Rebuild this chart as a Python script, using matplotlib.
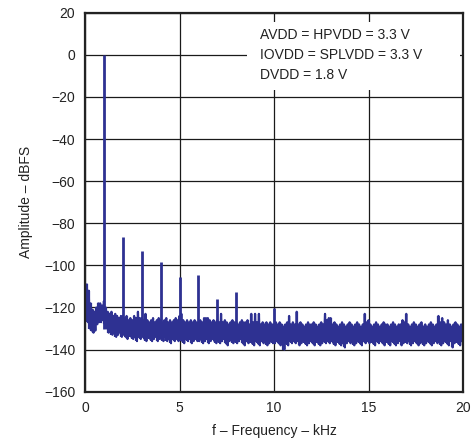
import numpy as np
import matplotlib
matplotlib.use("Agg")
import matplotlib.pyplot as plt
from matplotlib.patches import Rectangle

plt.rcParams['font.family'] = ['Liberation Sans', 'DejaVu Sans']

# ---- data ----
freq_khz = np.round(np.arange(0, 201) * 0.1, 1)  # 0.0 .. 20.0 kHz, 0.1 kHz bins

noise_hi = [
    -111, -109, -112, -118, -121, -122, -120, -118, -118, -119,
    -117, -120, -122, -123, -122, -124, -123, -124, -125, -124,
    -124, -125, -124, -126, -125, -126, -124, -125, -122, -125,
    -125, -126, -123, -126, -127, -126, -125, -127, -126, -125,
    -126, -127, -126, -125, -127, -126, -127, -126, -125, -126,
    -124, -123, -126, -127, -126, -127, -126, -127, -126, -127,
    -127, -126, -127, -125, -125, -125, -126, -127, -126, -127,
    -126, -127, -123, -127, -126, -127, -128, -127, -126, -127,
    -127, -128, -127, -126, -127, -127, -126, -128, -123, -127,
    -123, -127, -123, -128, -127, -128, -127, -128, -127, -128,
    -128, -127, -128, -127, -128, -129, -128, -127, -124, -128,
    -127, -128, -122, -128, -127, -128, -129, -128, -127, -128,
    -128, -127, -128, -129, -128, -127, -128, -123, -126, -125,
    -125, -128, -127, -128, -129, -128, -127, -128, -129, -128,
    -127, -128, -129, -128, -127, -128, -129, -128, -123, -127,
    -126, -128, -129, -128, -127, -128, -129, -128, -127, -128,
    -128, -129, -128, -127, -128, -129, -128, -128, -126, -127,
    -123, -128, -129, -128, -127, -128, -129, -128, -127, -129,
    -128, -129, -128, -127, -128, -129, -128, -124, -127, -125,
    -127, -128, -126, -128, -129, -128, -127, -128, -129, -128,
    -128,
]
noise_lo = [
    -125, -127, -130, -131, -132, -131, -128, -127, -127, -126,
    -128, -130, -132, -131, -133, -132, -134, -133, -132, -134,
    -133, -134, -135, -133, -134, -135, -134, -136, -134, -135,
    -134, -135, -136, -134, -135, -136, -135, -134, -136, -135,
    -135, -136, -134, -136, -135, -137, -135, -136, -135, -136,
    -135, -136, -137, -135, -136, -135, -137, -136, -135, -136,
    -136, -135, -137, -136, -135, -137, -136, -135, -136, -137,
    -136, -137, -136, -135, -137, -138, -136, -135, -137, -136,
    -137, -136, -135, -137, -138, -136, -137, -136, -137, -138,
    -136, -137, -138, -136, -137, -136, -138, -137, -136, -137,
    -137, -136, -137, -138, -136, -140, -137, -138, -136, -137,
    -136, -137, -136, -138, -137, -136, -137, -138, -137, -136,
    -137, -138, -136, -137, -138, -137, -136, -137, -136, -137,
    -136, -137, -138, -136, -137, -138, -137, -139, -137, -136,
    -137, -136, -138, -137, -136, -137, -138, -136, -137, -136,
    -137, -136, -137, -138, -136, -137, -136, -137, -138, -136,
    -137, -138, -136, -137, -138, -137, -136, -138, -137, -136,
    -137, -136, -138, -137, -136, -137, -138, -137, -136, -138,
    -137, -136, -137, -138, -137, -136, -137, -136, -138, -137,
    -136, -137, -138, -136, -139, -137, -136, -137, -138, -136,
    -137,
]

# harmonics / spurs (kHz, dBFS)
spur_freq = [1.0, 2.0, 3.0, 4.0, 5.0, 6.0, 7.0, 8.0, 10.0]
spur_level = [0.0, -86.4, -93.2, -98.5, -105.3, -104.7, -115.9, -112.8, -120.4]
spur_base = -130.0

x_ticks = [0, 5, 10, 15, 20]
y_ticks = [20, 0, -20, -40, -60, -80, -100, -120, -140, -160]

note_lines = ["AVDD = HPVDD = 3.3 V", "IOVDD = SPLVDD = 3.3 V", "DVDD = 1.8 V"]

TRACE = '#2E3192'

# ---- figure ----
fig = plt.figure(figsize=(4.73, 4.43), dpi=100)
W, H = 473, 443
L, R, T, B = 85, 463, 12.7, 391.7
ax = fig.add_axes([L / W, (H - B) / H, (R - L) / W, (B - T) / H])

ax.set_xlim(0, 20)
ax.set_ylim(-160, 20)
ax.set_xticks(x_ticks)
ax.set_yticks(y_ticks)
ax.set_yticklabels([f"{v}".replace('-', '\u2212') for v in y_ticks])
ax.tick_params(length=0, labelsize=10, pad=7, colors='#222222')

ax.grid(True, color='#1a1a1a', linewidth=0.9)
ax.set_axisbelow(True)
for s in ax.spines.values():
    s.set_linewidth(1.6)
    s.set_color('#222222')

# noise floor: dense FFT trace (solid band per bin + zig-zag edges)
f = np.asarray(freq_khz)
ax.vlines(f, noise_lo, noise_hi, colors=TRACE, linewidth=1.6, zorder=2)
xs = np.column_stack([f, f + 0.05]).ravel()
ys = np.column_stack([noise_hi, noise_lo]).ravel()
ax.plot(xs, ys, color=TRACE, linewidth=1.5, zorder=2)

# harmonic spikes
ax.vlines(spur_freq, spur_base, spur_level, colors=TRACE, linewidth=2.0, zorder=2)

# annotation box (white, hides grid)
ax.add_patch(Rectangle((8.57, -16.7), 11.27, 32.3, facecolor='white',
                       edgecolor='none', zorder=1.5))
baselines = [7.36, -2.14, -11.64]
for txt, yb in zip(note_lines, baselines):
    ax.text(9.26, yb, txt, fontsize=10, va='baseline', ha='left',
            color='#222222', zorder=3)

ax.set_xlabel("f \u2013 Frequency \u2013 kHz", fontsize=10, labelpad=6, color='#222222')
ax.set_ylabel("Amplitude \u2013 dBFS", fontsize=10, labelpad=8, color='#222222')

fig.savefig("out.png", dpi=100)
